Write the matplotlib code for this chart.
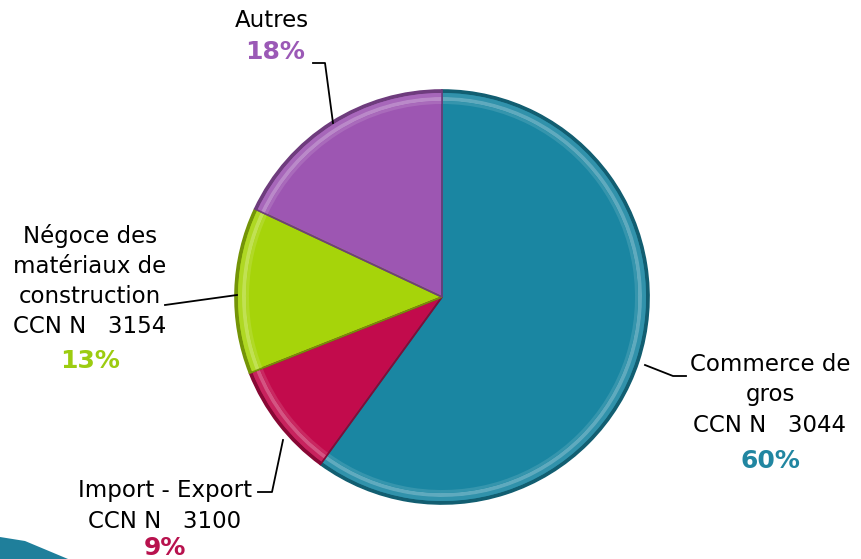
import matplotlib
matplotlib.use('Agg')
import matplotlib.pyplot as plt
from matplotlib.patches import Wedge, Polygon
import matplotlib.colors as mcolors
import numpy as np

labels = ['Commerce de\ngros\nCCN N   3044', 'Import - Export\nCCN N   3100',
          'Négoce des\nmatériaux de\nconstruction\nCCN N   3154', 'Autres']
values = [60, 9, 13, 18]
pct_labels = ['60%', '9%', '13%', '18%']
colors = ['#1a86a2', '#c20b4c', '#a6d40a', '#9d56b2']
pct_colors = ['#2186a1', '#b8124e', '#9ccc10', '#9b59b6']

W, H = 862, 559
fig = plt.figure(figsize=(W / 100, H / 100), dpi=100)
ax = fig.add_axes([0, 0, 1, 1])

def Y(y):  # pixel row -> data y
    return H - y

cx, cy, r = 442, Y(297), 207
wedges, _ = ax.pie(values, colors=colors, startangle=90, counterclock=False,
                   center=(cx, cy), radius=r, frame=True,
                   wedgeprops=dict(linewidth=0))
ax.set_xlim(0, W)
ax.set_ylim(0, H)
ax.set_aspect('equal')
ax.axis('off')

# bevel look
def shade(c, f):
    rgb = np.array(mcolors.to_rgb(c))
    if f < 0:
        return tuple(rgb * (1 + f))
    return tuple(rgb + (1 - rgb) * f)

for w, c in zip(wedges, colors):
    t1, t2 = w.theta1, w.theta2
    ax.add_patch(Wedge((cx, cy), r, t1, t2, width=3, color=shade(c, -0.3), lw=0))
    ax.add_patch(Wedge((cx, cy), r - 3, t1, t2, width=4, color=shade(c, 0.1), lw=0))
    ax.add_patch(Wedge((cx, cy), r - 7, t1, t2, width=4, color=shade(c, 0.3), lw=0))
    ax.add_patch(Wedge((cx, cy), r - 11, t1, t2, width=3, color=shade(c, 0.12), lw=0))
    ax.add_patch(Wedge((cx, cy), r, t1, t2, width=r, fill=False,
                       ec=shade(c, -0.3), lw=1.2))

# leader lines (pixel coords)
leaders = [
    [(645, 365), (673, 376), (686, 376)],
    [(258, 492), (272, 492), (283, 440)],
    [(165, 305), (237, 295)],
    [(313, 63), (325, 63), (333, 123)],
]
for pts in leaders:
    xs = [p[0] for p in pts]
    ys = [Y(p[1]) for p in pts]
    ax.plot(xs, ys, color='black', lw=1.3)

fs = 16.5
txt = dict(fontsize=fs, family='DejaVu Sans', ha='center', va='center', linespacing=1.4)
pct = dict(fontsize=18, fontweight='bold', ha='center', va='center')
ax.text(770, Y(395), labels[0], **txt)
ax.text(770, Y(461), pct_labels[0], color=pct_colors[0], **pct)
ax.text(165, Y(506), labels[1], **txt)
ax.text(165, Y(548), pct_labels[1], color=pct_colors[1], **pct)
ax.text(90, Y(281), labels[2], **txt)
ax.text(90, Y(361), pct_labels[2], color=pct_colors[2], **pct)
ax.text(272, Y(20), labels[3], **txt)
ax.text(275, Y(52), pct_labels[3], color=pct_colors[3], **pct)

# corner decoration
ax.add_patch(Polygon([(0, Y(537)), (25, Y(541)), (68, Y(559)), (0, Y(559))],
                     closed=True, color='#1f7f9b', lw=0))

fig.savefig('out.png', dpi=100)
